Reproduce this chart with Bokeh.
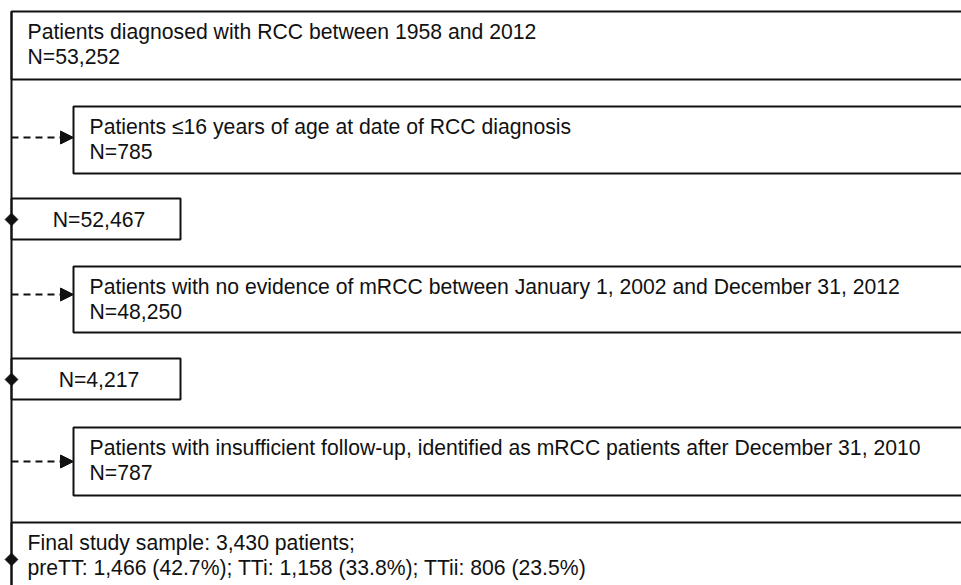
from bokeh.plotting import figure
from bokeh.models import Range1d, Arrow, NormalHead
from bokeh.core.properties import value
from bokeh.embed import file_html
from bokeh.resources import INLINE

# ---- data ----
start_label = "Patients diagnosed with RCC between 1958 and 2012"
start_n = 53252
excl_labels = [
    "Patients \u226416 years of age at date of RCC diagnosis",
    "Patients with no evidence of mRCC between January 1, 2002 and December 31, 2012",
    "Patients with insufficient follow-up, identified as mRCC patients after December 31, 2010",
]
excl_n = [785, 48250, 787]
remain_n = [52467, 4217]
final_label = "Final study sample"
final_n = 3430
group_names = ["preTT", "TTi", "TTii"]
group_n = [1466, 1158, 806]
group_pct = [42.7, 33.8, 23.5]

# ---- layout (screen pixel coordinates) ----
X0 = 11
XR = 1000
top_box = (11, 79)
excl_boxes = [(106, 173), (266, 332), (427, 495)]
excl_left = 73
arrow_y = [137, 294, 461]
n_boxes = [(198, 239), (358, 399)]
n_box_right = 180
final_top = 522
final_bottom = 640
diamond_y = [219, 379, 559]
FONT = value("Liberation Sans")
FS = "21.2px"
L1, L2 = 20, 45  # baseline offsets of text lines below a box top

p = figure(width=961, height=585, output_backend="svg", toolbar_location=None,
           x_range=Range1d(0, 961), y_range=Range1d(585, 0),
           min_border=0, outline_line_color=None)
p.axis.visible = False
p.grid.visible = False

lc = "#111111"
lw = 2

# boxes
lefts = [X0] + [excl_left] * 3 + [X0] * 2 + [X0]
rights = [XR] * 4 + [n_box_right] * 2 + [XR]
tops = [top_box[0]] + [b[0] for b in excl_boxes] + [b[0] for b in n_boxes] + [final_top]
bottoms = [top_box[1]] + [b[1] for b in excl_boxes] + [b[1] for b in n_boxes] + [final_bottom]
p.quad(left=lefts, right=rights, top=tops, bottom=bottoms,
       fill_color="white", line_color=lc, line_width=lw)

# main vertical line
p.segment(x0=[X0], y0=[top_box[0]], x1=[X0], y1=[640], line_color=lc, line_width=lw)

# dashed arrows
for y in arrow_y:
    p.add_layout(Arrow(x_start=X0, y_start=y, x_end=excl_left, y_end=y,
                       line_color=lc, line_width=1.8, line_dash="7 5",
                       end=NormalHead(size=13, fill_color=lc, line_color=lc, line_width=1)))

# diamonds
p.scatter(x=[X0] * 3, y=diamond_y, marker="square", angle=0.785398, size=9,
          fill_color=lc, line_color=lc)

# texts
tx, ty, tt = [], [], []
tx += [27, 27]; ty += [top_box[0] + L1, top_box[0] + L2]
tt += [start_label, f"N={start_n:,}"]
for (t, b), lab, n in zip(excl_boxes, excl_labels, excl_n):
    tx += [89, 89]; ty += [t + L1, t + L2]
    tt += [lab, f"N={n:,}"]
final_line2 = "; ".join(f"{g}: {n:,} ({pc}%)" for g, n, pc in zip(group_names, group_n, group_pct))
tx += [27, 27]; ty += [final_top + L1, final_top + L2]
tt += [f"{final_label}: {final_n:,} patients;", final_line2]
p.text(x=tx, y=ty, text=tt, text_font=FONT, text_font_size=FS,
       text_baseline="alphabetic", text_align="left", text_color="#111111")

cx = [(X0 + n_box_right) / 2 + 3] * 2
cy = [b[0] + 21 for b in n_boxes]
p.text(x=cx, y=cy, text=[f"N={n:,}" for n in remain_n], text_font=FONT,
       text_font_size=FS, text_baseline="alphabetic", text_align="center",
       text_color="#111111")

open("out.html", "w").write(file_html(p, INLINE))
